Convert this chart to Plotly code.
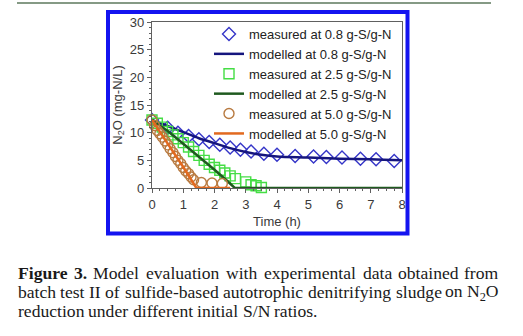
import plotly.graph_objects as go

# ---------------- data ----------------
t_meas_08 = [0, 0.5, 0.83, 1.17, 1.5, 1.83, 2.17, 2.5, 2.83, 3.17, 3.58, 4.0, 4.58, 5.17, 5.58, 6.08, 6.67, 7.17, 7.75]
y_meas_08 = [12.3, 10.9, 10.0, 9.4, 8.8, 8.3, 7.8, 7.3, 6.9, 6.6, 6.2, 6.0, 5.8, 5.7, 5.6, 5.5, 5.3, 5.2, 4.9]
t_mod_08 = [0, 0.5, 1, 1.5, 2, 2.5, 3, 3.5, 4, 5, 6, 7, 8]
y_mod_08 = [12.3, 11.2, 10.1, 9.0, 8.1, 7.2, 6.5, 6.0, 5.7, 5.5, 5.3, 5.2, 5.0]

t_meas_25 = [0, 0.17, 0.33, 0.5, 0.67, 0.83, 1.0, 1.17, 1.33, 1.5, 1.67, 1.83, 2.0, 2.17, 2.33, 2.5, 2.67, 3.0, 3.17, 3.33, 3.5]
y_meas_25 = [12.3, 11.7, 11.0, 10.2, 9.6, 8.9, 8.2, 7.4, 6.6, 5.9, 5.0, 4.3, 3.7, 3.2, 2.7, 2.2, 1.7, 1.1, 0.6, 0.4, 0.1]
t_mod_25 = [0, 0.5, 1, 1.5, 2, 2.4, 2.65, 8]
y_mod_25 = [12.3, 10.3, 8.0, 5.7, 3.3, 1.3, 0, 0]

t_meas_50 = [0, 0.08, 0.17, 0.25, 0.33, 0.42, 0.5, 0.58, 0.67, 0.75, 0.83, 0.92, 1.0, 1.08, 1.17, 1.25, 1.33, 1.58, 1.92, 2.25]
y_meas_50 = [12.3, 11.3, 10.4, 9.8, 9.2, 8.5, 7.8, 7.1, 6.4, 5.7, 5.0, 4.4, 3.7, 3.1, 2.6, 2.0, 1.5, 1.0, 0.9, 0.8]
t_mod_50 = [0, 0.5, 1.0, 1.42, 2.5]
y_mod_50 = [12.3, 8.1, 3.8, 0, 0]

names = ["measured at 0.8 g-S/g-N", "modelled at 0.8 g-S/g-N",
         "measured at 2.5 g-S/g-N", "modelled at 2.5 g-S/g-N",
         "measured at 5.0 g-S/g-N", "modelled at 5.0 g-S/g-N"]

x_ticks = [0, 1, 2, 3, 4, 5, 6, 7, 8]
y_ticks = [0, 5, 10, 15, 20, 25, 30]

caption_lines = [
    ["<b>Figure</b>", "<b>3.</b>", "Model", "evaluation", "with", "experimental", "data", "obtained", "from"],
    ["batch", "test", "II", "of", "sulfide-based", "autotrophic", "denitrifying", "sludge", "on N<sub>2</sub>O"],
    ["reduction", "under", "different", "initial", "S/N", "ratios."],
]

# ---------------- layout constants (px) ----------------
W, H = 523, 336
L, R, T, B = 152, 402, 22, 188

def px_x(px):
    return (px - L) / (R - L)

def px_y(py):
    return (B - py) / (B - T)

fig = go.Figure()

c_diam = "#3535c8"
c_navy = "#15157e"
c_sq = "#45dd45"
c_dg = "#1f5a1f"
c_circ = "#b87a40"
c_or = "#e2691f"

fig.add_trace(go.Scatter(x=t_meas_08, y=y_meas_08, mode="markers", name=names[0],
                         marker=dict(symbol="diamond-open", size=10, color=c_diam, line=dict(width=1.4)),
                         cliponaxis=False))
fig.add_trace(go.Scatter(x=t_mod_08, y=y_mod_08, mode="lines", name=names[1],
                         line=dict(color=c_navy, width=2.5, shape="spline"), cliponaxis=False))
fig.add_trace(go.Scatter(x=t_meas_25, y=y_meas_25, mode="markers", name=names[2],
                         marker=dict(symbol="square-open", size=10, color=c_sq, line=dict(width=1.4)),
                         cliponaxis=False))
fig.add_trace(go.Scatter(x=t_mod_25, y=y_mod_25, mode="lines", name=names[3],
                         line=dict(color=c_dg, width=2.5), cliponaxis=False))
fig.add_trace(go.Scatter(x=t_meas_50, y=y_meas_50, mode="markers", name=names[4],
                         marker=dict(symbol="circle-open", size=10, color=c_circ, line=dict(width=1.4)),
                         cliponaxis=False))
fig.add_trace(go.Scatter(x=t_mod_50, y=y_mod_50, mode="lines", name=names[5],
                         line=dict(color=c_or, width=2.5), cliponaxis=False))

axis_font = dict(family="Liberation Sans, Arial", size=13, color="#3a3a3a")

fig.update_xaxes(range=[0, 8], tickvals=x_ticks, ticktext=[str(v) for v in x_ticks],
                 showgrid=False, zeroline=False, showline=True, linecolor="#606060", linewidth=1.2,
                 mirror=True, ticks="outside", ticklen=4, tickcolor="#606060",
                 minor=dict(ticks="outside", ticklen=2, dtick=0.25, tickcolor="#606060"),
                 tickfont=axis_font,
                 title=dict(text="Time (h)", font=axis_font, standoff=6))
fig.update_yaxes(range=[0, 30], tickvals=y_ticks, ticktext=[str(v) for v in y_ticks],
                 showgrid=False, zeroline=False, showline=True, linecolor="#606060", linewidth=1.2,
                 mirror=True, ticks="outside", ticklen=4, tickcolor="#606060",
                 minor=dict(ticks="outside", ticklen=2, dtick=1, tickcolor="#606060"),
                 tickfont=axis_font,
                 title=dict(text="N<sub>2</sub>O (mg-N/L)", font=axis_font, standoff=4))

shapes = [
    dict(type="line", xref="paper", yref="paper", x0=px_x(17), x1=px_x(491), y0=px_y(3), y1=px_y(3),
         line=dict(color="#5d785d", width=1.5)),
    dict(type="rect", xref="paper", yref="paper", x0=px_x(108), x1=px_x(407.5), y0=px_y(12), y1=px_y(233.5),
         line=dict(color="#1414f0", width=4)),
]

# ---------------- caption with justified lines ----------------
REG = {' ': 250, '.': 250, '/': 278, '-': 333, '2': 500, '3': 500,
       'F': 556, 'I': 333, 'M': 889, 'N': 722, 'O': 722, 'S': 556,
       'a': 444, 'b': 500, 'c': 444, 'd': 500, 'e': 444, 'f': 333, 'g': 500, 'h': 500, 'i': 278,
       'j': 278, 'k': 500, 'l': 278, 'm': 778, 'n': 500, 'o': 500, 'p': 500, 'q': 500, 'r': 333,
       's': 389, 't': 278, 'u': 500, 'v': 500, 'w': 722, 'x': 500, 'y': 500, 'z': 444}
BOLD = {'F': 611, 'i': 278, 'g': 500, 'u': 556, 'r': 444, 'e': 444, '3': 500, '.': 250}
CAP_SIZE = 17.6

def word_width(w):
    bold = w.startswith("<b>")
    s = w.replace("<b>", "").replace("</b>", "")
    total = 0
    i = 0
    while i < len(s):
        if s.startswith("<sub>", i):
            j = s.index("</sub>", i)
            total += sum(REG.get(ch, 500) for ch in s[i + 5:j]) * 0.7
            i = j + 6
            continue
        ch = s[i]
        total += (BOLD.get(ch, 500) if bold else REG.get(ch, 500))
        i += 1
    return total / 1000 * CAP_SIZE

cap_left, cap_right = 17, 500
cap_y = [273, 292, 311]
annotations = []
for li, words in enumerate(caption_lines):
    widths = [word_width(w) for w in words]
    justify = li < len(caption_lines) - 1
    if justify:
        gap = (cap_right - cap_left - sum(widths)) / (len(words) - 1)
    else:
        gap = 0.25 * CAP_SIZE
    x = cap_left
    n = len(words)
    for wi, (w, wd) in enumerate(zip(words, widths)):
        if justify and wi == n - 1:
            ax, anchor = cap_right, "right"
        elif wi == 0:
            ax, anchor = x, "left"
        else:
            ax, anchor = x + wd / 2, "center"
        annotations.append(dict(text=w, x=px_x(ax), y=px_y(cap_y[li]), xref="paper", yref="paper",
                                xanchor=anchor, yanchor="middle", showarrow=False, borderpad=0,
                                font=dict(family="Liberation Serif, Times New Roman", size=CAP_SIZE,
                                          color="#1a1a1a")))
        x += wd + gap

fig.update_layout(
    width=W, height=H,
    margin=dict(l=L, r=W - R, t=T, b=H - B, pad=0),
    paper_bgcolor="white", plot_bgcolor="white",
    showlegend=True,
    legend=dict(x=px_x(209), y=px_y(19), xanchor="left", yanchor="top",
                bgcolor="rgba(0,0,0,0)", font=dict(family="Liberation Sans, Arial", size=13, color="#222"),
                itemwidth=30, tracegroupgap=0),
    shapes=shapes,
    annotations=annotations,
)

fig.write_html("out.html")
